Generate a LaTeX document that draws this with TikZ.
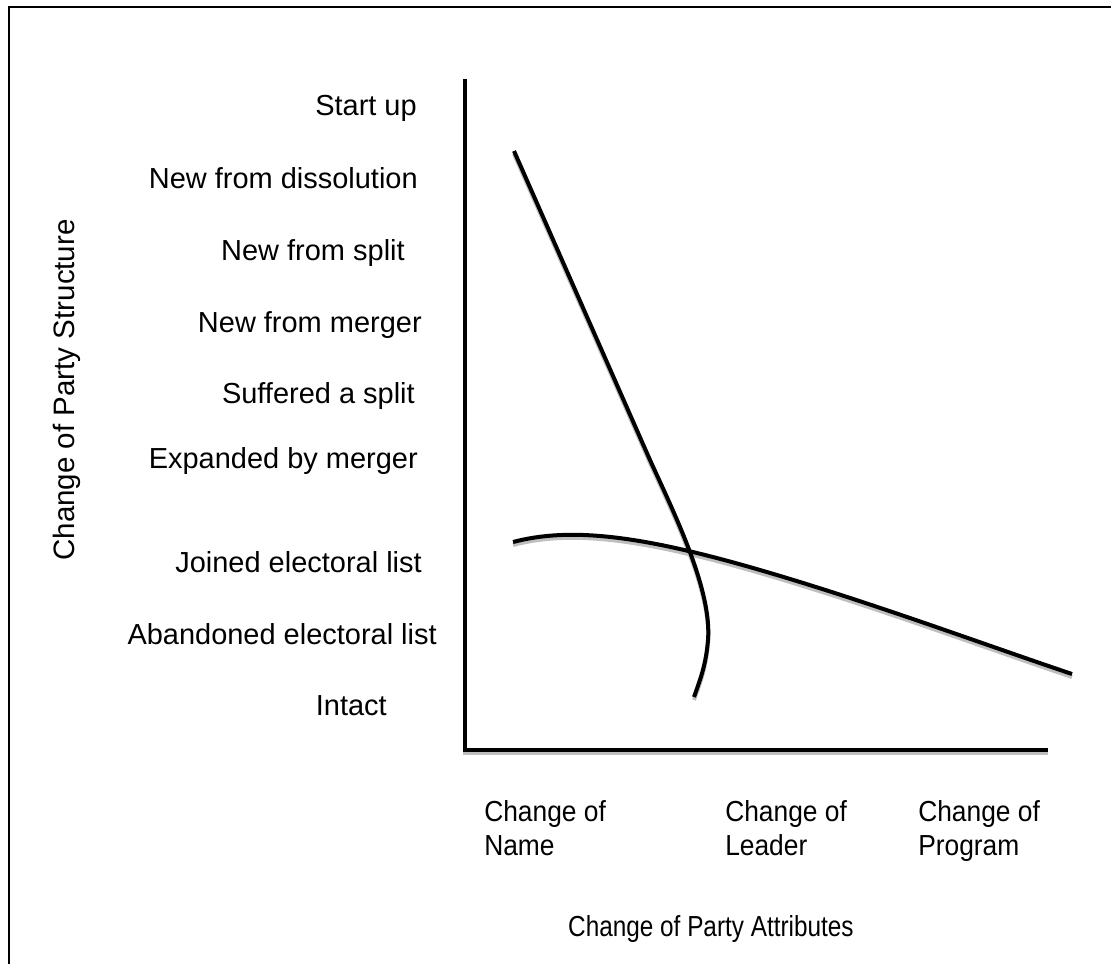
\documentclass[tikz,border=0pt]{standalone}
\usepackage{fontspec}
\setmainfont{Liberation Sans}
\usetikzlibrary{calc}

\newcommand\drawchart{%
        \draw[heavy] (465,79) -- (465,750) -- (1048,750);
        \draw[heavy] (514,151) -- (650,460) .. controls (675,515) and (712,590) .. (708,640)
                .. controls (706,665) and (700,680) .. (694,697);
        \draw[heavy] (513,542) .. controls (570,527) and (640,535) .. (760,570)
                .. controls (870,602) and (980,643) .. (1072,674);
}

\begin{document}
\begin{tikzpicture}[x=0.025cm, y=-0.025cm,
        heavy/.style={line width=2.85pt},
        stlabel/.style={anchor=base east, inner sep=0pt, font=\fontsize{20.6}{24}\selectfont},
        atlabel/.style={anchor=north west, inner sep=0pt, align=left, xscale=0.91, font=\fontsize{20.6}{24.2}\selectfont}]
        \useasboundingbox (0,0) rectangle (1111,963);
        \draw[line width=1.4pt] (9,970) -- (9,7) -- (1120,7);

        \begin{scope}[shift={(0,3)}, gray!50]
                \drawchart
        \end{scope}
        \drawchart

        \node[stlabel] (startup) at (417,115) {Start up};
        \node[stlabel] (dissolution) at (418,188) {New from dissolution};
        \node[stlabel] (newsplit) at (405,260) {New from split};
        \node[stlabel] (newmerger) at (422,332) {New from merger};
        \node[stlabel] (suffered) at (415,403) {Suffered a split};
        \node[stlabel] (expanded) at (418,468) {Expanded by merger};
        \node[stlabel] (joined) at (422,572) {Joined electoral list};
        \node[stlabel] (abandoned) at (437,644) {Abandoned electoral list};
        \node[stlabel] (intact) at (387,715) {Intact};

        \node[anchor=base, rotate=90, inner sep=0pt, font=\fontsize{21}{24}\selectfont] (structure) at (74,390) {Change of Party Structure};

        \node[atlabel] (name) at (484,800) {Change of\\Name};
        \node[atlabel] (leader) at (725,800) {Change of\\Leader};
        \node[atlabel] (program) at (918,800) {Change of\\Program};

        \node[anchor=base west, xscale=0.84, inner sep=0pt, font=\fontsize{20.6}{24}\selectfont] (attributes) at (568,936) {Change of Party Attributes};
\end{tikzpicture}
\end{document}
